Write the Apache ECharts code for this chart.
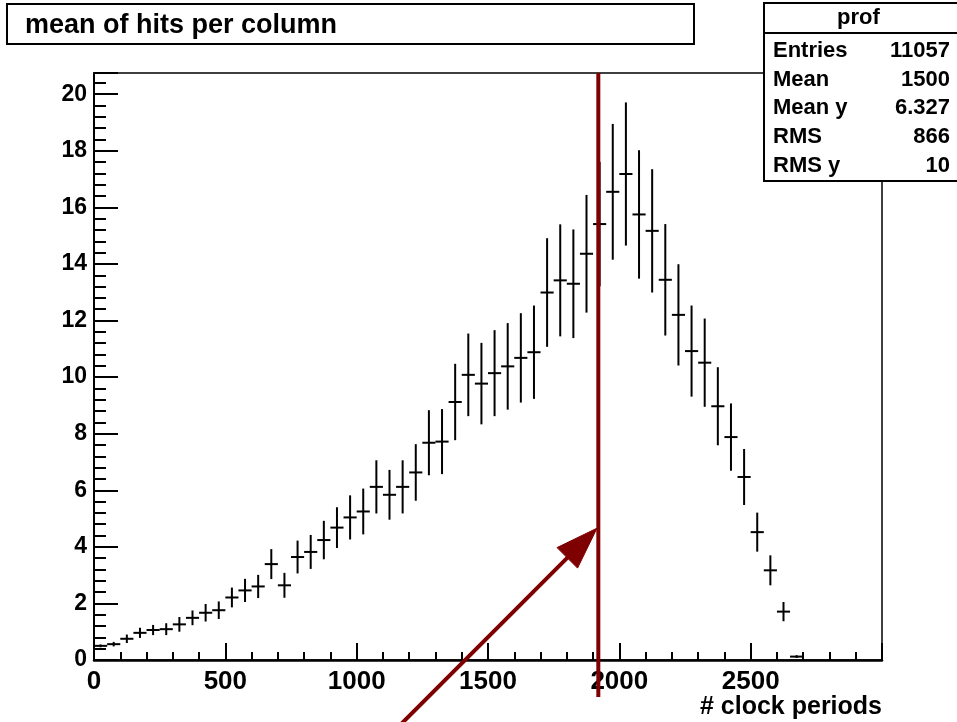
<!DOCTYPE html>
<html>
<head>
<meta charset="utf-8">
<script src="https://cdn.jsdelivr.net/npm/echarts@6/dist/echarts.min.js"></script>
<style>
  html, body { margin: 0; padding: 0; background: #fff; }
  #chart { width: 957px; height: 722px; }
</style>
</head>
<body>
<div id="chart"></div>
<script>
// Profile of mean hits per column, 50-period bins
const binCenters = [
  25, 75, 125, 175, 225, 275, 325, 375, 425, 475,
  525, 575, 625, 675, 725, 775, 825, 875, 925, 975,
  1025, 1075, 1125, 1175, 1225, 1275, 1325, 1375, 1425, 1475,
  1525, 1575, 1625, 1675, 1725, 1775, 1825, 1875, 1925, 1975,
  2025, 2075, 2125, 2175, 2225, 2275, 2325, 2375, 2425, 2475,
  2525, 2575, 2625, 2675
];
const binMeans = [
  0.50, 0.56, 0.75, 0.96, 1.06, 1.09, 1.26, 1.49, 1.67, 1.76,
  2.21, 2.46, 2.60, 3.39, 2.64, 3.64, 3.82, 4.24, 4.68, 5.04,
  5.25, 6.12, 5.84, 6.12, 6.63, 7.68, 7.72, 9.12, 10.08, 9.77,
  10.14, 10.38, 10.68, 10.88, 12.99, 13.42, 13.30, 14.36, 15.41, 16.55,
  17.18, 15.75, 15.17, 13.44, 12.20, 10.92, 10.51, 8.97, 7.88, 6.47,
  4.52, 3.17, 1.71, 0.12
];
const binErrors = [
  0.05, 0.08, 0.15, 0.18, 0.18, 0.21, 0.26, 0.26, 0.31, 0.31,
  0.35, 0.41, 0.41, 0.53, 0.44, 0.58, 0.60, 0.68, 0.72, 0.78,
  0.81, 0.94, 0.88, 0.94, 1.00, 1.15, 1.15, 1.35, 1.46, 1.44,
  1.52, 1.53, 1.58, 1.65, 1.92, 1.98, 1.92, 2.08, 2.20, 2.40,
  2.53, 2.27, 2.18, 1.97, 1.79, 1.61, 1.56, 1.38, 1.19, 0.99,
  0.69, 0.53, 0.34, 0.05
];
const binHalfWidth = 25;

const statsNames = ['Entries', 'Mean', 'Mean y', 'RMS', 'RMS y'];
const statsValues = ['11057', '1500', '6.327', '866', '10'];

const titleText = 'mean of hits per column';
const statsTitle = 'prof';
const xAxisTitle = '# clock periods';

// Cut position and the arrow pointing at it (data coordinates)
const cutX = 1920;
const cutYRange = [20.75, -1.31];
const arrowFrom = [1160, -2.35];
const arrowTo = [1915, 4.66];

const FONT = '"Liberation Sans", Arial, Helvetica, sans-serif';
const RED = '#7f0000';

const points = binCenters.map((x, i) => [x, binMeans[i], binErrors[i], binHalfWidth]);

function renderCross(params, api) {
  const x = api.value(0), y = api.value(1), e = api.value(2), hw = api.value(3);
  const c = api.coord([x, y]);
  const top = api.coord([x, y + e]);
  const bot = api.coord([x, y - e]);
  const left = api.coord([x - hw, y]);
  const right = api.coord([x + hw, y]);
  const style = { stroke: '#000', lineWidth: 2 };
  return {
    type: 'group',
    children: [
      { type: 'line', shape: { x1: c[0], y1: top[1], x2: c[0], y2: bot[1] }, style },
      { type: 'line', shape: { x1: left[0], y1: c[1], x2: right[0], y2: c[1] }, style }
    ]
  };
}

const chart = echarts.init(document.getElementById('chart'), null, { renderer: 'canvas' });

const statsRows = statsNames.map((name, i) => [
  { type: 'text', left: 773, top: 53 + i * 28.7 - 13,
    style: { text: name, font: 'bold 22px ' + FONT, fill: '#000' } },
  { type: 'text', right: 7, top: 53 + i * 28.7 - 13,
    style: { text: statsValues[i], font: 'bold 22px ' + FONT, fill: '#000', align: 'right' } }
]).flat();

const option = {
  animation: false,
  backgroundColor: '#fff',
  grid: {
    left: 94, right: 75, top: 73, bottom: 62,
    show: true, borderColor: '#000', borderWidth: 1.5,
    containLabel: false, outerBoundsMode: 'none'
  },
  xAxis: {
    type: 'value', min: 0, max: 3000, interval: 500,
    axisLine: { show: true, onZero: false, lineStyle: { color: '#000', width: 2.5 } },
    axisTick: { show: true, inside: true, length: 17, lineStyle: { color: '#000', width: 2 } },
    minorTick: { show: true, splitNumber: 5, length: 8, lineStyle: { color: '#000', width: 2 } },
    splitLine: { show: false },
    minorSplitLine: { show: false },
    axisLabel: {
      show: true, margin: 9, showMaxLabel: false, showMinLabel: true,
      formatter: v => String(v),
      color: '#000', fontFamily: FONT, fontWeight: 'bold', fontSize: 26
    }
  },
  yAxis: {
    type: 'value', min: 0, max: 20.75, interval: 2,
    axisLine: { show: true, onZero: false, lineStyle: { color: '#000', width: 2 } },
    axisTick: { show: true, inside: true, length: 24, lineStyle: { color: '#000', width: 2 } },
    minorTick: { show: true, splitNumber: 5, length: 12, lineStyle: { color: '#000', width: 2 } },
    splitLine: { show: false },
    minorSplitLine: { show: false },
    axisLabel: {
      show: true, margin: 7, showMaxLabel: false, showMinLabel: true,
      formatter: v => String(v),
      color: '#000', fontFamily: FONT, fontWeight: 'bold', fontSize: 23
    }
  },
  series: [{
    type: 'custom',
    name: 'prof',
    renderItem: renderCross,
    data: points,
    encode: { x: 0, y: 1 },
    z: 2
  }],
  graphic: [
    // title box
    { type: 'rect', id: 'titleBox', z: 100, shape: { x: 7, y: 4, width: 687, height: 40 },
      style: { fill: '#fff', stroke: '#000', lineWidth: 2 } },
    { type: 'text', id: 'titleText', z: 101, left: 25, top: 12,
      style: { text: titleText, font: 'bold 27px ' + FONT, fill: '#000' } },
    // statistics box
    { type: 'rect', id: 'statsBox', z: 100, shape: { x: 764, y: 3, width: 200, height: 178 },
      style: { fill: '#fff', stroke: '#000', lineWidth: 2 } },
    { type: 'line', id: 'statsSep', z: 101, shape: { x1: 764, y1: 33, x2: 957, y2: 33 },
      style: { stroke: '#000', lineWidth: 2 } },
    { type: 'text', id: 'statsHead', z: 101, left: 837, top: 7,
      style: { text: statsTitle, font: 'bold 22px ' + FONT, fill: '#000' } },
    ...statsRows.map((r, i) => Object.assign({ id: 'stat' + i, z: 101 }, r)),
    // x axis title
    { type: 'text', id: 'xTitle', z: 101, right: 75, top: 695,
      style: { text: xAxisTitle, font: 'bold 25px ' + FONT, fill: '#000', align: 'right' } }
  ]
};

chart.setOption(option);

// Cut line and arrow, placed through the axis scales
const cutTop = chart.convertToPixel({ gridIndex: 0 }, [cutX, cutYRange[0]]);
const cutBot = chart.convertToPixel({ gridIndex: 0 }, [cutX, cutYRange[1]]);
const p0 = chart.convertToPixel({ gridIndex: 0 }, arrowFrom);
const p1 = chart.convertToPixel({ gridIndex: 0 }, arrowTo);
const dx = p1[0] - p0[0], dy = p1[1] - p0[1];
const len = Math.sqrt(dx * dx + dy * dy);
const ux = dx / len, uy = dy / len;
const headLen = 42, headHalf = 14.5;
const bx = p1[0] - ux * headLen, by = p1[1] - uy * headLen;
const nx = -uy, ny = ux;

chart.setOption({
  graphic: [
    { type: 'line', id: 'cutLine', z: 50,
      shape: { x1: cutTop[0], y1: cutTop[1], x2: cutBot[0], y2: cutBot[1] },
      style: { stroke: RED, lineWidth: 4 } },
    { type: 'line', id: 'arrowShaft', z: 50,
      shape: { x1: p0[0], y1: p0[1], x2: bx + ux * 2, y2: by + uy * 2 },
      style: { stroke: RED, lineWidth: 4 } },
    { type: 'polygon', id: 'arrowHead', z: 50,
      shape: { points: [[p1[0], p1[1]], [bx + nx * headHalf, by + ny * headHalf], [bx - nx * headHalf, by - ny * headHalf]] },
      style: { fill: RED, stroke: RED, lineWidth: 1 } }
  ]
});
</script>
</body>
</html>
